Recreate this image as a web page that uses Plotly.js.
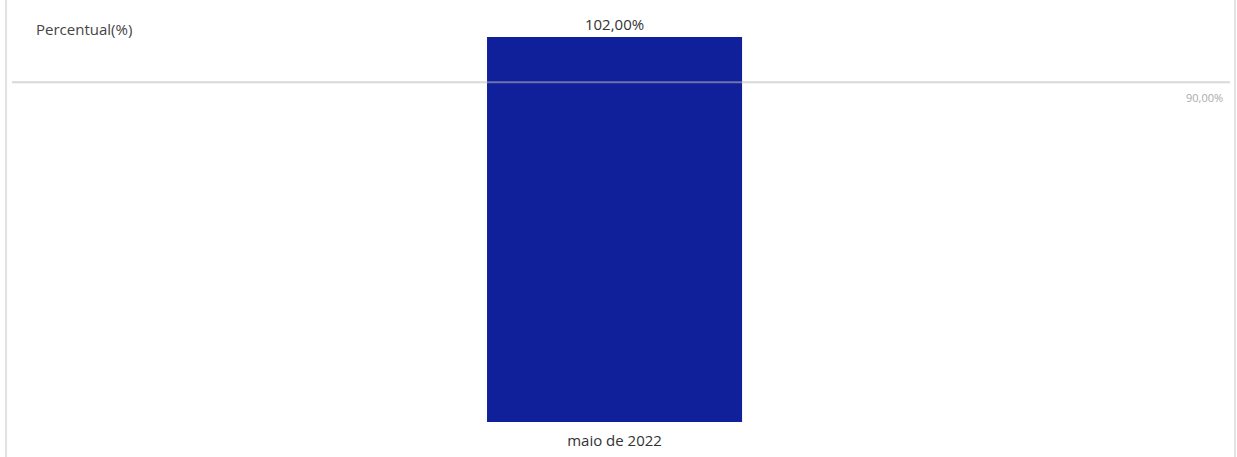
<!DOCTYPE html>
<html>
<head>
<meta charset="utf-8">
<script src="https://cdn.plot.ly/plotly-3.0.1.min.js"></script>
<style>html,body{margin:0;padding:0;background:#fff;}#chart{width:1237px;height:457px;}</style>
</head>
<body>
<div id="chart"></div>
<script>
const categories = ["maio de 2022"];
const percentual = [102];
const metaValue = 90;
const metaLabel = "90,00%";
const yTitle = "Percentual(%)";

function fmt(v){ return v.toFixed(2).replace('.', ',') + '%'; }

const trace = {
  type: 'bar',
  x: categories,
  y: percentual,
  marker: {color: '#10209B'},
  width: 0.2094,
  text: percentual.map(fmt),
  textposition: 'outside',
  cliponaxis: false,
  textfont: {family: 'Open Sans, sans-serif', size: 15, color: '#333'},
  hoverinfo: 'none'
};

const layout = {
  width: 1237, height: 457,
  margin: {l: 12, r: 7, t: 37, b: 35},
  paper_bgcolor: '#fff', plot_bgcolor: '#fff',
  showlegend: false,
  font: {family: 'Open Sans, sans-serif'},
  xaxis: {
    type: 'category', range: [-0.4947, 0.5053],
    showgrid: false, zeroline: false, showline: false,
    ticks: '', tickfont: {size: 15, color: '#333'}, ticklabelstandoff: 8
  },
  yaxis: {
    range: [0, 102], visible: false, showgrid: false, zeroline: false
  },
  shapes: [
    {type: 'line', xref: 'paper', yref: 'y', x0: 0, x1: 1, y0: metaValue, y1: metaValue,
     line: {color: 'rgba(185,185,190,0.55)', width: 2}, layer: 'above'},
    {type: 'line', xref: 'paper', yref: 'paper', x0: -0.0049, x1: -0.0049, y0: -0.2, y1: 1.2,
     line: {color: '#e2e2e2', width: 2}},
    {type: 'line', xref: 'paper', yref: 'paper', x0: 1.0041, x1: 1.0041, y0: -0.2, y1: 1.2,
     line: {color: '#e2e2e2', width: 2}}
  ],
  annotations: [
    {text: yTitle, xref: 'paper', yref: 'paper', x: 0.018, y: 1.02, xanchor: 'left', yanchor: 'middle',
     showarrow: false, font: {size: 15, color: '#444'}},
    {text: metaLabel, xref: 'paper', yref: 'y', x: 0.9959, y: metaValue, xanchor: 'right', yanchor: 'top',
     yshift: -6, showarrow: false, font: {size: 11, color: '#aaa'}}
  ]
};

Plotly.newPlot('chart', [trace], layout, {displayModeBar: false, staticPlot: true});
</script>
</body>
</html>
